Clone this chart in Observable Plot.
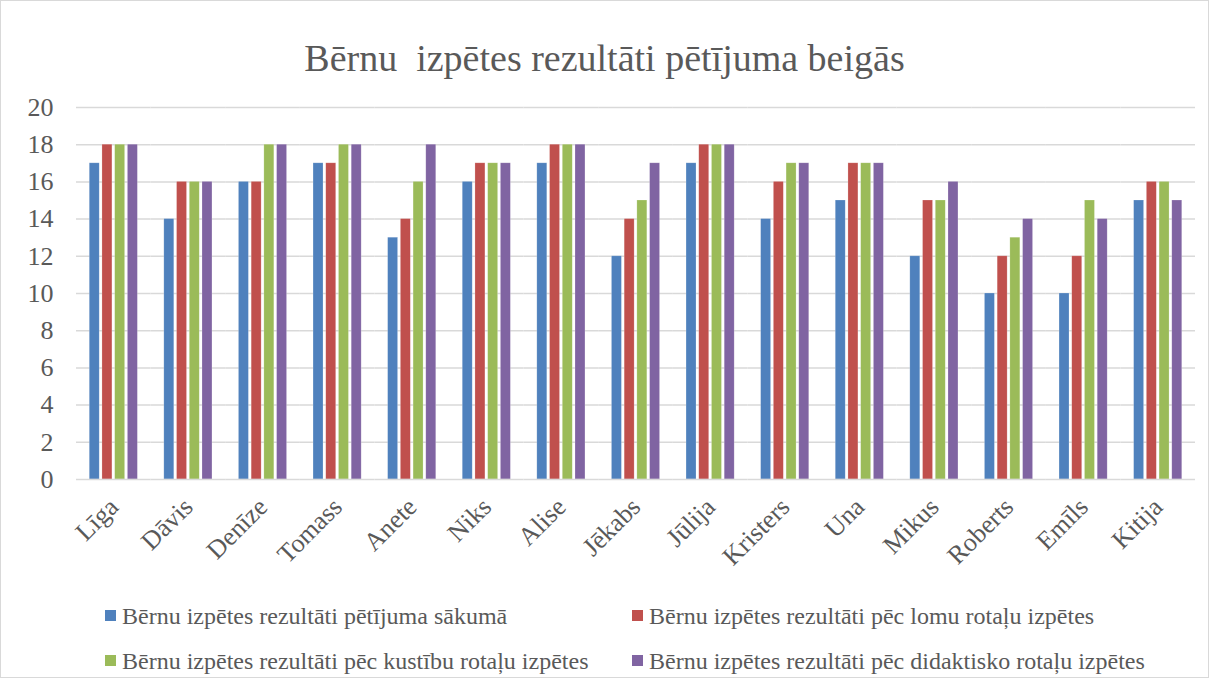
<!DOCTYPE html>
<html>
<head>
<meta charset="utf-8">
<script src="https://cdn.jsdelivr.net/npm/d3@7"></script>
<script src="https://cdn.jsdelivr.net/npm/@observablehq/plot@0.6"></script>
</head>
<body style="margin:0;padding:0;background:#fff">
<div id="wrap" style="position:relative;width:1207px;height:676px;border:1px solid #d9d9d9;font-family:'Liberation Serif';color:#595959;overflow:hidden">
  <div id="title" style="position:absolute;left:0;width:1207px;top:35px;text-align:center;font-size:38px;line-height:44px;white-space:pre;font-family:'Liberation Serif'">Bērnu  izpētes rezultāti pētījuma beigās</div>
  <div id="chart" style="position:absolute;left:0;top:79px"></div>
  <div id="legend" style="position:absolute;top:0;left:0;width:1207px;font-size:24px;font-family:'Liberation Serif'"></div>
</div>
<script>
const names = ["Līga","Dāvis","Denīze","Tomass","Anete","Niks","Alise","Jēkabs","Jūlija","Kristers","Una","Mikus","Roberts","Emīls","Kitija"];
const seriesNames = [
  "Bērnu izpētes rezultāti pētījuma sākumā",
  "Bērnu izpētes rezultāti pēc lomu rotaļu izpētes",
  "Bērnu izpētes rezultāti pēc kustību rotaļu izpētes",
  "Bērnu izpētes rezultāti pēc didaktisko rotaļu izpētes"
];
const atStart   = [17,14,16,17,13,16,17,12,17,14,15,12,10,10,15];
const afterRole = [18,16,16,17,14,17,18,14,18,16,17,15,12,12,16];
const afterMove = [18,16,18,18,16,17,18,15,18,17,17,15,13,15,16];
const afterDid  = [18,16,18,18,18,17,18,17,18,17,17,16,14,14,15];
const colors = ["#4F81BD","#C0504D","#9BBB59","#8064A2"];
const yTicks = [0,2,4,6,8,10,12,14,16,18,20];

const seriesValues = [atStart, afterRole, afterMove, afterDid];
const data = names.flatMap((n, i) => seriesValues.map((arr, j) => ({name: n, series: seriesNames[j], value: arr[i]})));

const chart = Plot.plot({
  width: 1207,
  height: 499,
  marginTop: 27,
  marginLeft: 75,
  marginRight: 13,
  marginBottom: 100,
  style: {fontFamily: "Liberation Serif", fontSize: "26px", color: "#595959", background: "transparent", overflow: "visible"},
  fx: {domain: names, padding: 0, round: false, label: null, axis: null},
  x: {domain: seriesNames, paddingInner: 0.216, paddingOuter: 1.04, round: false, axis: null},
  y: {domain: [0, 20], label: null, ticks: yTicks, tickSize: 0, tickPadding: 23},
  color: {domain: seriesNames, range: colors},
  marks: [
    Plot.gridY(yTicks.filter(d => d > 0), {stroke: "#d9d9d9", strokeOpacity: 1, strokeWidth: 1.5}),
    Plot.barY(data, {fx: "name", x: "series", y: "value", fill: "series", stroke: "#ffffff", strokeOpacity: 0.35, strokeWidth: 0.6}),
    Plot.ruleY([0], {stroke: "#d9d9d9", strokeWidth: 1.5}),
    Plot.text(names, {fx: d => d, text: d => d, frameAnchor: "bottom", lineAnchor: "bottom", textAnchor: "end", rotate: -45, dx: 6, dy: 29, fontSize: 26, fill: "#595959"})
  ]
});
document.getElementById("chart").appendChild(chart);

const legend = document.getElementById("legend");
const pos = [[104, 601], [631, 601], [104, 646], [631, 646]];
seriesNames.forEach((s, i) => {
  const d = document.createElement("div");
  d.style.cssText = `position:absolute;white-space:nowrap;line-height:28px;left:${pos[i][0]}px;top:${pos[i][1]}px;font-family:'Liberation Serif'`;
  d.innerHTML = `<span style="display:inline-block;width:11px;height:11px;margin-right:6px;vertical-align:3px;background:${colors[i]}"></span>${s}`;
  legend.appendChild(d);
});
</script>
</body>
</html>
